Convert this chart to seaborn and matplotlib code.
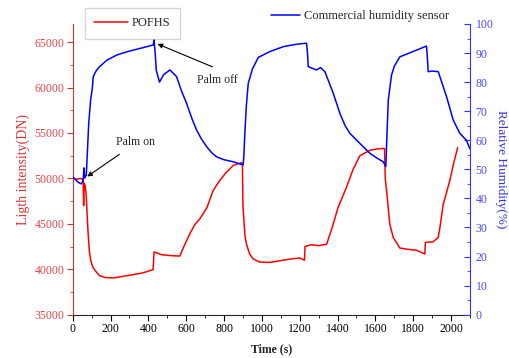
import matplotlib
matplotlib.use("Agg")
import matplotlib.pyplot as plt
from matplotlib.ticker import MultipleLocator
import pandas as pd
import seaborn as sns

# POFHS light intensity (DN)
red_t = [0, 20, 40, 55, 58, 60, 66, 72, 80, 88, 95, 107, 125, 142, 170, 214, 260, 319, 370, 425,
         430, 445, 470, 520, 566, 590, 619, 645, 672, 710, 742, 775, 812, 850, 893, 897, 900, 910,
         918, 935, 953, 988, 1042, 1113, 1160, 1201, 1225, 1228, 1262, 1300, 1342, 1370, 1403, 1447,
         1482, 1518, 1571, 1610, 1648, 1652, 1659, 1676, 1694, 1729, 1770, 1817, 1861, 1864, 1905,
         1932, 1941, 1958, 1993, 2015, 2035]
red_v = [49950, 49900, 50000, 49900, 47000, 49500, 49200, 48000, 44500, 42000, 41000, 40200, 39700,
         39300, 39100, 39040, 39200, 39400, 39600, 39950, 41900, 41800, 41600, 41500, 41450, 42600,
         43900, 44900, 45540, 46800, 48650, 49700, 50670, 51450, 51750, 51600, 47000, 43800, 42800,
         41700, 41150, 40800, 40750, 41000, 41150, 41240, 41000, 42500, 42700, 42600, 42750, 44500,
         46820, 49020, 51000, 52500, 53100, 53250, 53300, 50000, 48650, 44980, 43510, 42340, 42200,
         42100, 41680, 42950, 43030, 43500, 44600, 47100, 49760, 51800, 53400]

# commercial humidity sensor (%)
blue_t = [0, 15, 30, 45, 55, 60, 64, 72, 77, 85, 95, 104, 109, 125, 142, 180, 232, 280, 320, 380,
          426, 430, 436, 442, 459, 480, 514, 549, 575, 602, 630, 655, 680, 708, 735, 761, 800, 849,
          901, 905, 910, 918, 928, 950, 981, 1042, 1113, 1180, 1236, 1241, 1245, 1289, 1310, 1333,
          1377, 1412, 1440, 1465, 1518, 1571, 1610, 1641, 1655, 1660, 1668, 1685, 1700, 1729, 1817,
          1870, 1875, 1879, 1900, 1932, 1976, 2011, 2046, 2081, 2100]
blue_v = [47.5, 46.5, 45.5, 45, 46, 50.5, 47, 48, 55, 66, 74, 78, 82, 84, 85.3, 87.5, 89.3, 90.3, 91,
          92, 92.8, 94.5, 90, 84, 80, 82.5, 84.2, 81.9, 77, 72.7, 67.5, 63.5, 60.5, 57.8, 55.7, 54.3,
          53.3, 52.6, 51.5, 55, 62.5, 72, 79.6, 84.5, 88.5, 90.5, 92.2, 93, 93.4, 90, 85.3, 84.2,
          85, 83.6, 76.2, 69.3, 65, 62.4, 58.9, 55.5, 53.8, 52.6, 51, 60, 73.8, 82.4, 85.5, 88.7,
          91, 92.4, 88, 83.6, 83.8, 83.6, 75, 67, 62.4, 60, 57]

red_df = pd.DataFrame({"Time": red_t, "DN": red_v})
blue_df = pd.DataFrame({"Time": blue_t, "RH": blue_v})

sns.set_style("ticks")
plt.rcParams["font.family"] = ["Liberation Serif", "DejaVu Serif"]

fig = plt.figure(figsize=(5.1, 3.58), dpi=100)
ax = fig.add_axes([0.1425, 0.121, 0.7791, 0.812])
ax2 = ax.twinx()

sns.lineplot(data=red_df, x="Time", y="DN", ax=ax, color="#ff0000", lw=1.1, label="POFHS")
sns.lineplot(data=blue_df, x="Time", y="RH", ax=ax2, color="#0000ff", lw=1.1,
             label="Commercial humidity sensor")

ax.set_xlim(0, 2100)
ax.set_ylim(35000, 67000)
ax2.set_ylim(0, 100)

ax.xaxis.set_major_locator(MultipleLocator(200))
ax.xaxis.set_minor_locator(MultipleLocator(100))
ax.yaxis.set_major_locator(MultipleLocator(5000))
ax.yaxis.set_minor_locator(MultipleLocator(2500))
ax2.yaxis.set_major_locator(MultipleLocator(10))
ax2.yaxis.set_minor_locator(MultipleLocator(5))

for a in (ax, ax2):
    a.spines["top"].set_visible(False)
ax.spines["left"].set_color("#cc3333")
ax.spines["right"].set_visible(False)
ax2.spines["left"].set_visible(False)
ax2.spines["right"].set_color("#3333ff")
ax2.spines["bottom"].set_visible(False)

ax.tick_params(axis="x", which="both", direction="out", colors="black", labelsize=8.5, pad=2)
ax.tick_params(axis="x", which="major", length=4)
ax.tick_params(axis="x", which="minor", length=2.5)
ax.tick_params(axis="y", which="both", direction="out", color="#cc3333", labelcolor="#e04848",
               labelsize=8.5, pad=2)
ax.tick_params(axis="y", which="major", length=4)
ax.tick_params(axis="y", which="minor", length=2.5)
ax2.tick_params(axis="y", which="both", direction="in", color="#3333ff", labelcolor="#4848ff",
                labelsize=8.5, pad=4)
ax2.tick_params(axis="y", which="major", length=4)
ax2.tick_params(axis="y", which="minor", length=2.5)

ax.set_xlabel("Time (s)", fontsize=8.5, fontweight="bold", labelpad=6)
ax.set_ylabel("Ligth intensity(DN)", fontsize=10, color="#dd3333", labelpad=3)
ax2.set_ylabel("Relative Humidity(%)", fontsize=9.5, color="#3333ee", rotation=270, labelpad=10)

# legends sit above the plot, one with a box and one without
ax.legend(loc="upper left", bbox_to_anchor=(0.1667, 0.978), bbox_transform=fig.transFigure,
          fontsize=9, frameon=True, fancybox=False, edgecolor="#cccccc", borderaxespad=0,
          handlelength=2.7, handletextpad=0.3, borderpad=0.75)
ax2.legend(loc="upper left", bbox_to_anchor=(0.522, 0.985), bbox_transform=fig.transFigure,
           fontsize=9, frameon=False, borderaxespad=0,
           handlelength=2.3, handletextpad=0.3, borderpad=0.4)

# annotations, drawn on the top axes so they sit over the lines
ax2.annotate("", xy=(435, 93.5), xytext=(752, 84.9),
             arrowprops=dict(arrowstyle="-|>", color="black", lw=0.8, mutation_scale=7))
ax2.text(764, 80.8, "Palm off", fontsize=8.5, ha="center", va="center")
ax2.annotate("", xy=(65, 47.0), xytext=(259, 55.7),
             arrowprops=dict(arrowstyle="-|>", color="black", lw=0.8, mutation_scale=7))
ax2.text(334, 59.5, "Palm on", fontsize=8.5, ha="center", va="center")

fig.savefig("out.png", dpi=100)
